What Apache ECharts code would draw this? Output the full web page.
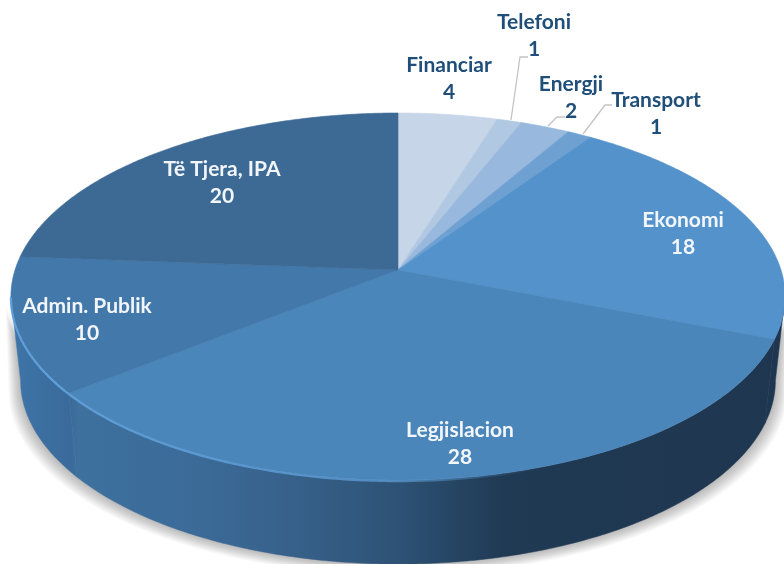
<!DOCTYPE html>
<html>
<head>
<meta charset="utf-8">
<style>html,body{margin:0;padding:0;background:#fff}#c{width:784px;height:564px}</style>
<script src="https://cdn.jsdelivr.net/npm/echarts@6/dist/echarts.min.js"></script>
</head>
<body>
<div id="c"></div>
<script>
var categories = ['Financiar','Telefoni','Energji','Transport','Ekonomi','Legjislacion','Admin. Publik','Të Tjera, IPA'];
var values = [4,1,2,1,18,28,10,20];

var topColors = ['#c6d5e8','#b1c8e3','#98b9dd','#6ea0d2','#5392cb','#4b86ba','#4278aa','#3c6a95'];
var labelColors = ['#1f4e79','#1f4e79','#1f4e79','#1f4e79','#f2f6fa','#f2f6fa','#f2f6fa','#f2f6fa'];
var labelAnchors = [[449,79],[534,36],[571,98],[656,114],[683,234],[460,444],[87,320],[222,183]];
var leaders = [null,[[511,120],[520,57],[528,57]],[[548,126],[557,117],[565,117]],[[583,134],[605,105],[612,105]],null,null,null,null];

var apex = [398,270], A = 179.7, B = 383, K = 0.1446, DEPTH = 84, BOTTOM_SCALE = 0.975;
var FRONT_START = Math.acos(-K), FRONT_END = 2*Math.PI - FRONT_START;
var SHADOW_LAYERS = 12;

var total = values.reduce(function(a,b){return a+b;},0);
var cum = [0];
values.forEach(function(v,i){cum.push(cum[i]+v);});
function ang(v){return v/total*2*Math.PI;}
function proj(t,dy,sx){
  var w = 1 + K*Math.cos(t);
  return [apex[0] + (sx||1)*B*Math.sin(t)/w, apex[1] - A*Math.cos(t)/w + (dy||0)];
}
function arc(t1,t2,dy,sx){
  var n = Math.max(2,Math.ceil(Math.abs(t2-t1)/0.01)), pts=[];
  for(var i=0;i<=n;i++) pts.push(proj(t1+(t2-t1)*i/n,dy,sx));
  return pts;
}
function wallPoints(t1,t2){return arc(t1,t2,0).concat(arc(t2,t1,DEPTH,BOTTOM_SCALE));}

var wallFill = {type:'linear',x:0,y:0,x2:784,y2:0,global:true,colorStops:[
  {offset:0,color:'#3f77ab'},{offset:0.09,color:'#3a6a9a'},{offset:0.1,color:'#3e719e'},
  {offset:0.26,color:'#3b6a97'},{offset:0.39,color:'#365f88'},{offset:0.51,color:'#2d5275'},
  {offset:0.64,color:'#203a54'},{offset:1,color:'#1f3650'}]};
var rimStroke = {type:'linear',x:0,y:0,x2:784,y2:0,global:true,colorStops:[
  {offset:0,color:'rgba(96,160,218,1)'},{offset:0.5,color:'rgba(96,160,218,0.7)'},
  {offset:0.68,color:'rgba(96,160,218,0)'},{offset:1,color:'rgba(96,160,218,0)'}]};

var base = {type:'custom',coordinateSystem:'none',silent:true,animation:false};
var option = {
  animation:false,
  backgroundColor:'#ffffff',
  series:[
    Object.assign({},base,{z:1,data:[total],renderItem:function(){
      var kids=[];
      for(var j=SHADOW_LAYERS;j>=1;j--){
        var pts=arc(FRONT_START,FRONT_END,0,1+j*0.0012)
          .concat(arc(FRONT_END,FRONT_START,DEPTH+j*0.9,BOTTOM_SCALE+j*0.0026));
        kids.push({type:'polygon',shape:{points:pts},style:{fill:'rgba(0,0,0,0.022)'}});
      }
      return {type:'group',children:kids};
    }}),
    Object.assign({},base,{z:2,data:values,renderItem:function(p){
      var i=p.dataIndex, t1=Math.max(ang(cum[i]),FRONT_START), t2=Math.min(ang(cum[i+1]),FRONT_END);
      if(t2<=t1) return {type:'group',children:[]};
      return {type:'polygon',shape:{points:wallPoints(t1,t2)},style:{fill:wallFill,stroke:wallFill,lineWidth:0.5}};
    }}),
    Object.assign({},base,{z:3,data:values,renderItem:function(p){
      var i=p.dataIndex, t1=ang(cum[i]), t2=ang(cum[i+1]);
      return {type:'polygon',shape:{points:[apex].concat(arc(t1,t2,0))},
        style:{fill:topColors[i],stroke:topColors[i],lineWidth:0.6}};
    }}),
    Object.assign({},base,{z:4,data:[total],renderItem:function(){
      return {type:'polyline',shape:{points:arc(FRONT_END,FRONT_START,1)},
        style:{fill:null,stroke:rimStroke,lineWidth:2.2}};
    }}),
    Object.assign({},base,{z:5,data:values,renderItem:function(p,api){
      var i=p.dataIndex, kids=[];
      if(leaders[i]) kids.push({type:'polyline',shape:{points:leaders[i]},style:{fill:null,stroke:'#c4c4c4',lineWidth:1.3}});
      kids.push({type:'text',style:{
        text:categories[i]+'\n'+api.value(0),
        x:labelAnchors[i][0],y:labelAnchors[i][1],
        align:'center',verticalAlign:'middle',
        fontFamily:'Lato',fontWeight:'bold',fontSize:21,lineHeight:27,
        fill:labelColors[i]}});
      return {type:'group',children:kids};
    }})
  ]
};
echarts.init(document.getElementById('c'),null,{renderer:'canvas'}).setOption(option);
</script>
</body>
</html>
